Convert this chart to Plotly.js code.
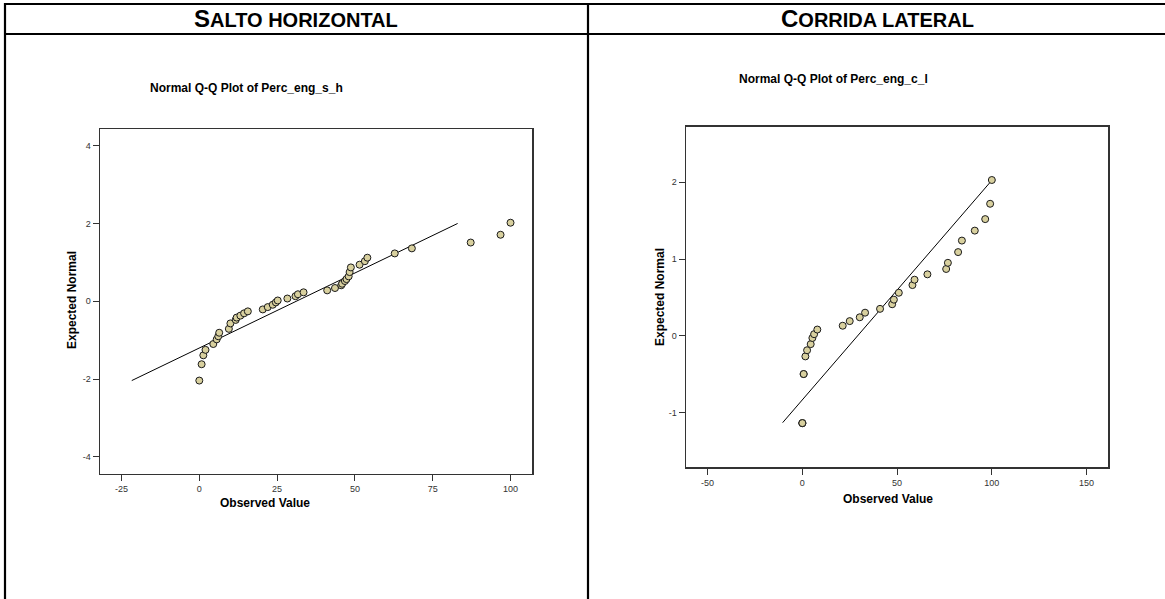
<!DOCTYPE html>
<html>
<head>
<meta charset="utf-8">
<script src="https://cdn.plot.ly/plotly-3.0.1.min.js"></script>
<style>
html,body{margin:0;padding:0;background:#fff;}
#chart{width:1165px;height:599px;}
</style>
</head>
<body>
<div id="chart"></div>
<script>
// ---- Data: Salto horizontal (Perc_eng_s_h) ----
const shObserved = [0, 0.75, 1.3, 2.0, 4.5, 5.6, 6.1, 6.4, 9.5, 10.0, 11.7, 12.0, 13.2, 14.4, 15.6, 20.4, 22.0, 23.6, 24.6, 25.2, 28.3, 30.9, 31.7, 33.5, 41.1, 43.6, 45.6, 45.9, 46.8, 47.3, 48.0, 48.3, 48.7, 51.5, 53.2, 54.0, 62.8, 68.3, 87.2, 96.8, 100];
const shExpected = [-2.04, -1.62, -1.39, -1.25, -1.10, -0.98, -0.90, -0.81, -0.71, -0.57, -0.48, -0.42, -0.37, -0.31, -0.26, -0.21, -0.15, -0.09, -0.03, 0.02, 0.07, 0.13, 0.18, 0.23, 0.28, 0.34, 0.41, 0.45, 0.52, 0.57, 0.64, 0.75, 0.87, 0.94, 1.03, 1.12, 1.23, 1.36, 1.51, 1.71, 2.02];
const shLineX = [-21.7, 83.0];
const shLineY = [-2.04, 2.0];
const shXTicks = [-25, 0, 25, 50, 75, 100];
const shYTicks = [-4, -2, 0, 2, 4];

// ---- Data: Corrida lateral (Perc_eng_c_l) ----
const clObserved = [0, 0, 0, 0.7, 0.7, 1.6, 2.5, 4.4, 5.3, 6.2, 7.9, 21.3, 25.0, 30.3, 33.1, 41.0, 47.4, 48.3, 50.9, 58.1, 59.2, 66.0, 75.9, 76.8, 82.2, 84.2, 91.0, 96.5, 99.1, 100];
const clExpected = [-1.14, -1.14, -1.14, -0.50, -0.50, -0.27, -0.19, -0.11, -0.03, 0.02, 0.08, 0.13, 0.19, 0.24, 0.30, 0.35, 0.41, 0.47, 0.56, 0.66, 0.73, 0.80, 0.87, 0.95, 1.09, 1.24, 1.37, 1.52, 1.72, 2.03];
const clLineX = [-10.4, 99.1];
const clLineY = [-1.134, 2.0];
const clXTicks = [-50, 0, 50, 100, 150];
const clYTicks = [-1, 0, 1, 2];

// ---- Text ----
const headerLeft = '<b><span style="font-size:24px">S</span>ALTO HORIZONTAL</b>';
const headerRight = '<b><span style="font-size:24px">C</span>ORRIDA LATERAL</b>';
const titleLeft = 'Normal Q-Q Plot of Perc_eng_s_h';
const titleRight = 'Normal Q-Q Plot of Perc_eng_c_l';
const xTitle = 'Observed Value';
const yTitle = 'Expected Normal';

const W = 1165, H = 599;
const px = v => v / W;
const py = v => 1 - v / H;
const FONT = 'Liberation Sans, Arial, Helvetica, sans-serif';

const marker = {size: 7, color: '#d8d09e', line: {color: '#1a1a1a', width: 1}};

const traces = [
  {x: shLineX, y: shLineY, mode: 'lines', line: {color: '#000', width: 1}, xaxis: 'x', yaxis: 'y', hoverinfo: 'skip'},
  {x: shObserved, y: shExpected, mode: 'markers', marker: marker, xaxis: 'x', yaxis: 'y'},
  {x: clLineX, y: clLineY, mode: 'lines', line: {color: '#000', width: 1}, xaxis: 'x2', yaxis: 'y2', hoverinfo: 'skip'},
  {x: clObserved, y: clExpected, mode: 'markers', marker: marker, xaxis: 'x2', yaxis: 'y2'}
];

function ax(domain, range, ticks, anchor) {
  return {
    domain: domain, range: range, tickvals: ticks, ticktext: ticks.map(String),
    ticks: 'outside', ticklen: 6, tickwidth: 1, tickcolor: '#333',
    showline: true, mirror: true, linecolor: '#333', linewidth: 1.5,
    showgrid: false, zeroline: false, anchor: anchor,
    tickfont: {family: FONT, size: 9, color: '#333'}, fixedrange: true
  };
}

const lineBlack = {color: '#000', width: 2.2};
const shapes = [
  {type: 'line', xref: 'paper', yref: 'paper', x0: px(5), x1: 1, y0: py(4), y1: py(4), line: lineBlack},
  {type: 'line', xref: 'paper', yref: 'paper', x0: px(5), x1: 1, y0: py(34), y1: py(34), line: lineBlack},
  {type: 'line', xref: 'paper', yref: 'paper', x0: px(5), x1: px(5), y0: py(3), y1: 0, line: lineBlack},
  {type: 'line', xref: 'paper', yref: 'paper', x0: px(588), x1: px(588), y0: py(3), y1: 0, line: lineBlack}
];

const ann = (text, x, y, size, extra) => Object.assign({
  text: text, xref: 'paper', yref: 'paper', x: px(x), y: py(y), showarrow: false,
  xanchor: 'center', yanchor: 'middle', font: {family: FONT, size: size, color: '#000'}
}, extra || {});

const annotations = [
  ann(headerLeft, 296, 19, 20),
  ann(headerRight, 877, 19, 20),
  ann('<b>' + titleLeft + '</b>', 246, 88, 12),
  ann('<b>' + titleRight + '</b>', 833, 79, 12),
  ann('<b>' + xTitle + '</b>', 265, 503, 12),
  ann('<b>' + xTitle + '</b>', 888, 499, 12),
  ann('<b>' + yTitle + '</b>', 72, 300, 12, {textangle: -90}),
  ann('<b>' + yTitle + '</b>', 660, 297, 12, {textangle: -90})
];

const layout = {
  width: W, height: H, margin: {l: 0, r: 0, t: 0, b: 0},
  paper_bgcolor: '#fff', plot_bgcolor: '#fff', showlegend: false,
  font: {family: FONT},
  xaxis: ax([px(100), px(532)], [-31.9, 106.9], shXTicks, 'y'),
  yaxis: ax([py(473.5), py(129)], [-4.43, 4.43], shYTicks, 'x'),
  xaxis2: ax([px(686), px(1108)], [-61.4, 161.3], clXTicks, 'y2'),
  yaxis2: ax([py(467.3), py(126.7)], [-1.716, 2.725], clYTicks, 'x2'),
  shapes: shapes, annotations: annotations
};

Plotly.newPlot('chart', traces, layout, {displayModeBar: false, staticPlot: true});
</script>
</body>
</html>
